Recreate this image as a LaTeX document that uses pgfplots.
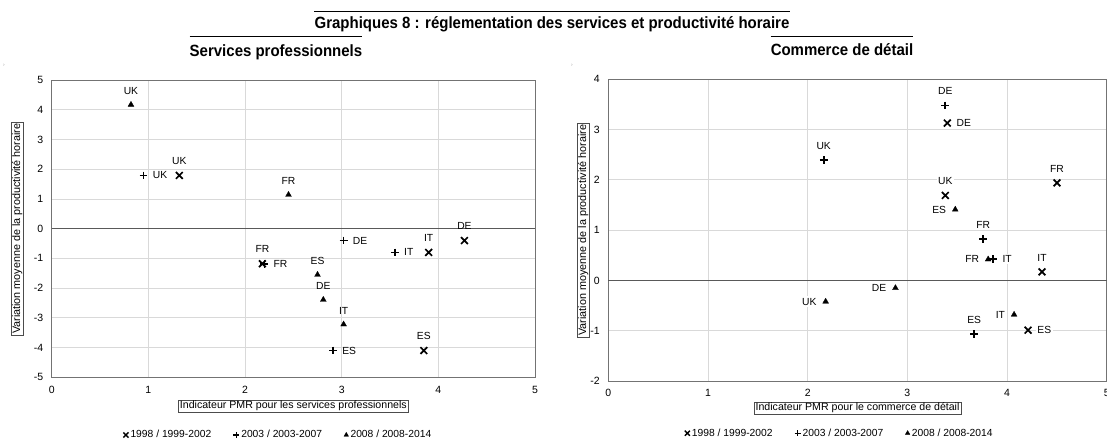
\documentclass[border=0pt]{standalone}
\usepackage{fontspec}
\setmainfont{Liberation Sans}
\newfontfamily\narrowbf[FakeStretch=0.92]{Liberation Sans Bold}
\usepackage{pgfplots}
\pgfplotsset{compat=1.18}

\newcommand\lblfont{\fontsize{10.3}{12}\selectfont}
\newcommand\ttlfont{\narrowbf\fontsize{16.3}{19}\selectfont}

\pgfplotsset{
  base/.style={
    scale only axis, xmin=0, xmax=5, xtick={0,...,5},
    axis line style={draw=black!55, line width=0.8pt},
    grid=major, major grid style={draw=black!15, line width=0.8pt},
    major tick length=0pt,
    tick label style={font=\fontsize{10.5}{12}\selectfont},
    /pgf/number format/assume math mode=true,
    yticklabel style={xshift=-5pt},
    xticklabel style={yshift=-5pt},
    extra y ticks={0}, extra y tick labels={0},
    extra y tick style={grid=major, major grid style={draw=black!65, line width=0.9pt}},
    every axis x label/.style={at={(axis description cs:0.5,0)}, anchor=north,
      draw=black!70, line width=0.5pt, inner xsep=1.5pt, inner ysep=1.2pt, font=\fontsize{10.6}{12}\selectfont},
    ylabel={Variation moyenne de la productivité horaire},
    legend columns=3,
    legend image code/.code={\draw[#1] plot coordinates {(0pt,0pt)};},
    legend style={draw=none, fill=none, inner sep=0pt, anchor=west,
      font=\lblfont, nodes={inner xsep=2pt, inner ysep=1pt},
      /tikz/every even column/.append style={column sep=20pt}},
  },
  lbl/.style={nodes near coords, point meta=explicit symbolic,
    nodes near coords style={font=\lblfont, inner sep=1.5pt, text=black, #1}},
  above/.style={lbl={anchor=south, yshift=8.5pt, #1}},
  right/.style={lbl={anchor=west, xshift=7pt, #1}},
  left/.style={lbl={anchor=east, xshift=-7.5pt, #1}},
  sx/.style={only marks, forget plot, mark=x, mark size=4.8pt, mark options={black, line width=1.7pt}},
  sp/.style={only marks, forget plot, mark=+, mark size=3.9pt, mark options={black, line width=1.7pt}},
  st/.style={only marks, forget plot, mark=triangle*, mark size=3.4pt, mark options={black, fill=black, line width=0.3pt}},
}

\begin{document}
\begin{tikzpicture}
\useasboundingbox (0pt,-441pt) rectangle (1107pt,0pt);

% titles
\node[font=\ttlfont, anchor=base, inner sep=0pt] (t) at (552pt,-28.6pt)
  {Graphiques 8 : réglementation des services et productivité horaire};
\coordinate (l1) at (0pt,-11.8pt);
\draw[line width=0.8pt] (t.west |- l1) -- (t.east |- l1);
\node[font=\ttlfont, anchor=base, inner sep=0pt] (s1) at (276pt,-56.8pt)
  {Services professionnels};
\node[font=\ttlfont, anchor=base, inner sep=0pt] (s2) at (842pt,-56pt)
  {Commerce de détail};
\coordinate (l2) at (0pt,-36.7pt);
\draw[line width=0.8pt] (s1.west |- l2) -- (s1.east |- l2);
\draw[line width=0.8pt] (s2.west |- l2) -- (s2.east |- l2);
\node[font=\fontsize{5}{6}\selectfont, text=black!40] at (4pt,-65pt) {›};
\node[font=\fontsize{5}{6}\selectfont, text=black!40] at (572pt,-65pt) {›};

% Services professionnels
\begin{axis}[base,
  at={(51.7pt,-377.3pt)}, anchor=south west,
  width=483.3pt, height=297.3pt,
  ymin=-5, ymax=5, ytick={-5,-4,-3,-2,-1,1,2,3,4,5},
  xlabel={Indicateur PMR pour les services professionnels},
  xlabel style={yshift=-22.5pt},
  every axis y label/.style={at={(axis description cs:-0.0588,0.5)}, rotate=90, anchor=south,
    draw=black!70, line width=0.5pt, inner xsep=1.5pt, inner ysep=0.6pt, font=\fontsize{10.8}{12}\selectfont},
  legend style={at={(axis description cs:0.148,-0.194)}},
]
% 1998 / 1999-2002
\addplot[sx, above] table[meta=n] {
x y n
1.32 1.79 UK
2.18 -1.18 FR
3.90 -0.80 IT
4.27 -0.40 DE
3.85 -4.10 ES
};
% 2003 / 2003-2007
\addplot[sp, right] table[meta=n] {
x y n
0.95 1.79 UK
2.20 -1.18 FR
3.02 -0.40 DE
3.55 -0.80 IT
2.91 -4.10 ES
};
% 2008 / 2008-2014
\addplot[st, above] table[meta=n] {
x y n
0.82 4.17 UK
2.45 1.14 FR
2.75 -1.55 ES
2.81 -2.39 DE
3.02 -3.22 IT
};
\addlegendimage{mark=x, mark size=3.6pt, line width=1.4pt, black}
\addlegendimage{mark=+, mark size=3pt, line width=1.4pt, black}
\addlegendimage{mark=triangle*, mark size=2.6pt, black}
\legend{1998 / 1999-2002, 2003 / 2003-2007, 2008 / 2008-2014}
\end{axis}

% Commerce de detail
\begin{axis}[base,
  at={(608.3pt,-381pt)}, anchor=south west,
  width=498.5pt, height=301.7pt,
  ymin=-2, ymax=4, ytick={-2,-1,1,2,3,4},
  xlabel={Indicateur PMR pour le commerce de détail},
  xlabel style={yshift=-20.7pt},
  every axis y label/.style={at={(axis description cs:-0.0381,0.5)}, rotate=90, anchor=south,
    draw=black!70, line width=0.5pt, inner xsep=1.5pt, inner ysep=0.6pt, font=\fontsize{10.8}{12}\selectfont},
  legend style={at={(axis description cs:0.153,-0.173)}},
]
% 1998 / 1999-2002
\addplot[sx, above={fill=white}] table[meta=n] {
x y n
3.38 1.69 UK
4.50 1.94 FR
4.35 0.17 IT
};
\addplot[sx, right={fill=white}] table[meta=n] {
x y n
3.40 3.13 DE
4.21 -0.99 ES
};
% 2003 / 2003-2007
\addplot[sp, above={fill=white}] table[meta=n] {
x y n
3.38 3.48 DE
2.16 2.39 UK
3.76 0.82 FR
3.67 -1.07 ES
};
\addplot[sp, right={fill=white}] table[meta=n] {
x y n
3.86 0.42 IT
};
% 2008 / 2008-2014
\addplot[st, left={fill=white}] table[meta=n] {
x y n
3.48 1.41 ES
3.81 0.42 FR
2.88 -0.15 DE
2.18 -0.42 UK
4.07 -0.68 IT
};
\addlegendimage{mark=x, mark size=3.6pt, line width=1.4pt, black}
\addlegendimage{mark=+, mark size=3pt, line width=1.4pt, black}
\addlegendimage{mark=triangle*, mark size=2.6pt, black}
\legend{1998 / 1999-2002, 2003 / 2003-2007, 2008 / 2008-2014}
\end{axis}
\end{tikzpicture}
\end{document}
